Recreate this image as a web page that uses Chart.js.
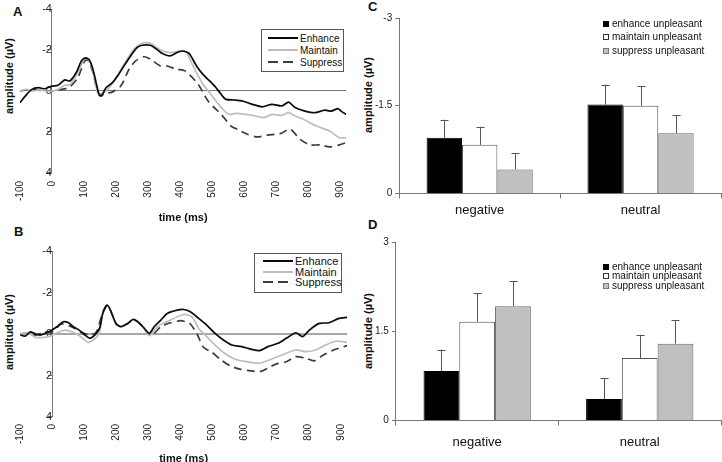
<!DOCTYPE html>
<html>
<head>
<meta charset="utf-8">
<script src="https://cdn.jsdelivr.net/npm/chart.js@4"></script>
<style>
  html, body { margin: 0; padding: 0; background: #fff; overflow: hidden; }
  body { width: 722px; height: 462px; position: relative; font-family: "Liberation Sans", Arial, sans-serif; color: #111; }
  .panel { position: absolute; }
  .letter { position: absolute; font-weight: bold; font-size: 13px; }
  .ytitle { position: absolute; font-weight: bold; font-size: 11px; white-space: nowrap;
            transform: translate(-50%, -50%) rotate(-90deg); }
  .lbox { position: absolute; border: 1px solid #555; background: #fff; }
  .lrow { position: absolute; left: 0; height: 12px; display: flex; align-items: center; white-space: nowrap; }
  .lrow svg { display: block; }
  .lrow span { margin-left: 2px; }
  .sq { position: absolute; display: flex; align-items: center; font-size: 10px; white-space: nowrap; }
  .sq i { display: inline-block; width: 6px; height: 6px; margin-right: 3px; box-sizing: border-box; }
</style>
</head>
<body>

<div class="letter" style="left:13px; top:4px;">A</div>
<div class="letter" style="left:14px; top:224px;">B</div>
<div class="letter" style="left:368px; top:-1px;">C</div>
<div class="letter" style="left:368px; top:217px;">D</div>

<div class="ytitle" style="left:9px; top:76px;">amplitude (µV)</div>
<div class="ytitle" style="left:9px; top:332px;">amplitude (µV)</div>
<div class="ytitle" style="left:368px; top:95px;">amplitude (µV)</div>
<div class="ytitle" style="left:368px; top:331px;">amplitude (µV)</div>

<div class="panel" style="left:0; top:0;"><canvas id="chartA" width="360" height="230"></canvas></div>
<div class="panel" style="left:0; top:230px;"><canvas id="chartB" width="360" height="234"></canvas></div>
<div class="panel" style="left:360px; top:0;"><canvas id="chartC" width="362" height="230"></canvas></div>
<div class="panel" style="left:360px; top:230px;"><canvas id="chartD" width="362" height="232"></canvas></div>

<!-- waveform legends -->
<div class="lbox" style="left:261px; top:29px; width:81px; height:41px; font-size:10px;">
  <div class="lrow" style="top:2px; left:6px;"><svg width="30" height="4"><line x1="0" y1="2" x2="30" y2="2" stroke="#0a0a0a" stroke-width="2"/></svg><span>Enhance</span></div>
  <div class="lrow" style="top:14px; left:6px;"><svg width="30" height="4"><line x1="0" y1="2" x2="30" y2="2" stroke="#bdbdbd" stroke-width="2"/></svg><span>Maintain</span></div>
  <div class="lrow" style="top:26px; left:6px;"><svg width="30" height="4"><line x1="0" y1="2" x2="30" y2="2" stroke="#3c3c3c" stroke-width="2" stroke-dasharray="10 5"/></svg><span>Suppress</span></div>
</div>
<div class="lbox" style="left:254px; top:253px; width:86px; height:38px; font-size:11px;">
  <div class="lrow" style="top:1px; left:8px;"><svg width="30" height="4"><line x1="0" y1="2" x2="30" y2="2" stroke="#0a0a0a" stroke-width="2"/></svg><span>Enhance</span></div>
  <div class="lrow" style="top:12px; left:8px;"><svg width="30" height="4"><line x1="0" y1="2" x2="30" y2="2" stroke="#bdbdbd" stroke-width="2"/></svg><span>Maintain</span></div>
  <div class="lrow" style="top:22px; left:8px;"><svg width="30" height="4"><line x1="0" y1="2" x2="30" y2="2" stroke="#3c3c3c" stroke-width="2" stroke-dasharray="10 5"/></svg><span>Suppress</span></div>
</div>

<!-- bar legends -->
<div class="sq" style="left:603px; top:18px;"><i style="background:#000;"></i>enhance unpleasant</div>
<div class="sq" style="left:603px; top:31px;"><i style="background:#fff; border:1px solid #333;"></i>maintain unpleasant</div>
<div class="sq" style="left:603px; top:45px;"><i style="background:#c0c0c0; border:1px solid #777;"></i>suppress unpleasant</div>
<div class="sq" style="left:603px; top:261px;"><i style="background:#000;"></i>enhance unpleasant</div>
<div class="sq" style="left:603px; top:270px;"><i style="background:#fff; border:1px solid #333;"></i>maintain unpleasant</div>
<div class="sq" style="left:603px; top:280px;"><i style="background:#c0c0c0; border:1px solid #777;"></i>suppress unpleasant</div>

<script>
// ---- data ----
// Panel A waveforms (time in ms, amplitude in µV)
const tEnhanceA = [-100,-83,-63,-42,-22,-1,19,40,56,76,92,105,117,128,138,148,155,169,189,205,225,246,266,282,308,328,344,369,390,405,421,431,452,472,493,513,529,544,570,596,627,657,688,719,740,760,791,822,853,873,894,904,920];
const vEnhanceA = [0.57,0.24,-0.08,-0.16,-0.11,-0.24,-0.28,-0.54,-0.49,-0.9,-1.46,-1.62,-1.51,-1.06,-0.41,0.21,0.24,-0.16,-0.41,-0.73,-1.22,-1.71,-2.11,-2.23,-2.23,-2.03,-1.84,-1.71,-1.87,-1.95,-1.9,-1.79,-1.22,-0.81,-0.49,-0.16,0.16,0.41,0.44,0.49,0.65,0.77,0.65,0.73,0.54,0.81,0.98,1.06,0.93,0.98,0.86,0.98,1.14];
const tMaintainA = [-100,-80,-60,-40,-20,0,19,40,56,81,102,113,128,143,155,174,194,225,256,282,308,339,369,400,421,431,452,472,493,513,534,554,575,606,637,663,688,719,740,760,786,827,868,899,920];
const vMaintainA = [0,-0.08,0,-0.05,0,0,-0.08,-0.28,-0.3,-0.9,-1.58,-1.55,-0.98,0.08,0.12,-0.08,-0.49,-1.3,-2.03,-2.33,-2.33,-2.0,-1.87,-1.95,-1.9,-1.55,-0.9,-0.33,0.08,0.49,0.89,1.14,1.09,1.14,1.22,1.3,1.14,1.19,1.06,1.22,1.38,1.71,1.95,2.28,2.28];
const tSuppressA = [-100,-80,-52,-20,0,20,40,56,81,102,113,128,143,155,169,184,215,241,261,287,308,339,359,390,416,457,488,529,560,580,611,642,673,714,745,776,807,838,868,899,920];
const vSuppressA = [0,-0.05,-0.05,0,0,-0.05,-0.1,-0.2,-0.65,-1.46,-1.5,-0.9,0.05,0.2,0.08,0.08,-0.24,-1.06,-1.46,-1.67,-1.55,-1.22,-1.22,-1.06,-0.98,-0.33,0.49,1.14,1.71,1.87,2.11,2.24,2.15,2.08,1.87,2.36,2.63,2.63,2.73,2.63,2.52];

// Panel B waveforms
const tEnhanceB = [-99,-83,-68,-52,-37,-22,-5,15,35,50,66,81,102,117,133,148,158,172,184,199,215,236,252,267,283,303,318,339,359,390,410,431,457,482,508,534,560,591,622,647,673,704,730,760,781,802,833,863,894,920];
const vEnhanceB = [0.05,0.1,-0.1,0,0.05,-0.03,-0.15,-0.35,-0.59,-0.55,-0.35,-0.22,0.05,0.2,0.05,-0.27,-0.99,-1.39,-1.07,-0.51,-0.35,-0.51,-0.7,-0.59,-0.35,-0.03,-0.35,-0.67,-0.99,-1.15,-1.18,-1.07,-0.75,-0.43,-0.03,0.29,0.53,0.61,0.74,0.8,0.61,0.45,0.21,-0.06,0.13,-0.19,-0.51,-0.54,-0.75,-0.8];
const tMaintainB = [-99,-75,-52,-22,-1,19,40,66,92,112,133,148,158,172,184,199,215,236,252,267,283,303,328,369,410,436,457,482,513,544,575,606,647,678,719,760,791,822,853,884,920];
const vMaintainB = [0,-0.05,0.16,0.16,0.08,-0.08,-0.19,-0.08,0.16,0.4,0.24,-0.1,-1.0,-1.4,-1.07,-0.51,-0.35,-0.51,-0.7,-0.59,-0.35,0.08,-0.35,-0.67,-0.94,-0.83,-0.27,0.13,0.61,1.0,1.24,1.33,1.41,1.24,1.0,0.77,0.85,0.77,0.53,0.35,0.4];
const tSuppressB = [-99,-75,-52,-22,0,30,60,92,117,138,158,172,184,199,215,236,252,267,283,308,339,369,400,416,431,452,472,498,523,554,585,616,652,673,698,730,760,791,817,843,873,920];
const vSuppressB = [0,-0.05,0.05,-0.1,-0.1,-0.48,-0.35,-0.08,0.05,-0.1,-1.05,-1.4,-1.07,-0.51,-0.35,-0.51,-0.7,-0.59,-0.35,0.08,-0.35,-0.54,-0.64,-0.59,-0.48,0,0.64,0.88,1.2,1.53,1.69,1.77,1.8,1.64,1.45,1.34,1.09,1.17,1.29,1.04,0.8,0.56];

// Panels C and D: mean amplitudes and error-bar lengths
const groups = ['negative', 'neutral'];
const cEnhance = [-0.95, -1.52];
const cMaintain = [-0.83, -1.50];
const cSuppress = [-0.41, -1.03];
const cEnhanceErr = [0.31, 0.34];
const cMaintainErr = [0.31, 0.33];
const cSuppressErr = [0.28, 0.31];

const dEnhance = [0.83, 0.36];
const dMaintain = [1.66, 1.05];
const dSuppress = [1.92, 1.29];
const dEnhanceErr = [0.36, 0.35];
const dMaintainErr = [0.48, 0.39];
const dSuppressErr = [0.42, 0.39];

// ---- shared setup ----
Chart.defaults.font.family = '"Liberation Sans", Arial, sans-serif';
Chart.defaults.color = '#111';

const pts = (t, v) => t.map((x, i) => ({ x: x, y: v[i] }));

function waveDataset(label, t, v, color, dash) {
    return {
        label: label,
        data: pts(t, v),
        borderColor: color,
        borderWidth: 1.7,
        borderDash: dash || [],
        pointRadius: 0,
        tension: 0.25,
        fill: false
    };
}

function waveChart(id, sets, opt) {
    return new Chart(document.getElementById(id), {
        type: 'line',
        data: { datasets: sets },
        options: {
            responsive: false,
            animation: false,
            layout: { padding: opt.padding },
            plugins: { legend: { display: false }, tooltip: { enabled: false } },
            scales: {
                x: {
                    type: 'linear',
                    min: -100,
                    max: 920,
                    border: { display: false },
                    grid: { display: false, drawTicks: false, tickLength: 0 },
                    ticks: {
                        stepSize: 100,
                        includeBounds: false,
                        minRotation: 90,
                        maxRotation: 90,
                        padding: opt.tickPad,
                        font: { size: 10 },
                        color: '#222'
                    },
                    title: {
                        display: true,
                        text: 'time (ms)',
                        font: { size: 11, weight: 'bold', lineHeight: 1 },
                        padding: { top: opt.titlePad, bottom: 0 },
                        color: '#111'
                    }
                },
                y: {
                    position: { x: 0 },
                    reverse: true,
                    min: -4,
                    max: 4,
                    border: { color: '#777' },
                    grid: {
                        color: (c) => c.tick && c.tick.value === 0 ? opt.zeroColor : 'rgba(0,0,0,0)',
                        lineWidth: (c) => c.tick && c.tick.value === 0 ? opt.zeroWidth : 1,
                        tickColor: '#777',
                        tickLength: 4
                    },
                    ticks: { stepSize: 2, font: { size: 11 }, color: '#222', padding: 2 }
                }
            }
        }
    });
}

waveChart('chartA', [
    waveDataset('Enhance', tEnhanceA, vEnhanceA, '#0a0a0a'),
    waveDataset('Maintain', tMaintainA, vMaintainA, '#bdbdbd'),
    waveDataset('Suppress', tSuppressA, vSuppressA, '#3c3c3c', [8, 5])
], { padding: { left: 20, right: 10, top: 9, bottom: 7 }, tickPad: 8, titlePad: 3, zeroColor: '#777', zeroWidth: 1 });

waveChart('chartB', [
    waveDataset('Enhance', tEnhanceB, vEnhanceB, '#0a0a0a'),
    waveDataset('Maintain', tMaintainB, vMaintainB, '#bdbdbd'),
    waveDataset('Suppress', tSuppressB, vSuppressB, '#3c3c3c', [8, 5])
], { padding: { left: 20, right: 10, top: 21, bottom: 0 }, tickPad: 7, titlePad: 2, zeroColor: '#a8a8a8', zeroWidth: 2 });

// error bars drawn with the chart's own value scale
const errorBars = {
    id: 'errorBars',
    afterDatasetsDraw(chart) {
        const ctx = chart.ctx;
        const yScale = chart.scales.y;
        chart.data.datasets.forEach((ds, i) => {
            const meta = chart.getDatasetMeta(i);
            meta.data.forEach((bar, j) => {
                const v = ds.data[j];
                const end = yScale.getPixelForValue(v + Math.sign(v) * ds.errors[j]);
                const x = Math.round(bar.x) + 0.5;
                ctx.save();
                ctx.strokeStyle = '#555';
                ctx.lineWidth = 1;
                ctx.beginPath();
                ctx.moveTo(x, bar.y);
                ctx.lineTo(x, end);
                ctx.moveTo(x - 4, Math.round(end) + 0.5);
                ctx.lineTo(x + 4, Math.round(end) + 0.5);
                ctx.stroke();
                ctx.restore();
            });
        });
    }
};

function barChart(id, sets, yOpt, opt) {
    return new Chart(document.getElementById(id), {
        type: 'bar',
        data: { labels: groups, datasets: sets },
        options: {
            responsive: false,
            animation: false,
            layout: { padding: opt.padding },
            datasets: { bar: { categoryPercentage: 0.66, barPercentage: 1, borderWidth: 1 } },
            plugins: { legend: { display: false }, tooltip: { enabled: false } },
            scales: {
                x: {
                    border: { color: '#777' },
                    grid: { offset: true, drawOnChartArea: false, tickColor: '#777', tickLength: 5 },
                    ticks: { font: { size: 13 }, color: '#111', padding: opt.tickPad }
                },
                y: Object.assign({
                    border: { color: '#777' },
                    grid: { drawOnChartArea: false, tickColor: '#777', tickLength: 4 },
                    ticks: { stepSize: 1.5, font: { size: 10 }, color: '#222', padding: 3 }
                }, yOpt)
            }
        },
        plugins: [errorBars]
    });
}

function barSets(e, m, s, ee, me, se) {
    return [
        { label: 'enhance unpleasant', data: e, errors: ee, backgroundColor: '#000', borderColor: '#000' },
        { label: 'maintain unpleasant', data: m, errors: me, backgroundColor: '#fff', borderColor: '#555' },
        { label: 'suppress unpleasant', data: s, errors: se, backgroundColor: '#c0c0c0', borderColor: '#666' }
    ];
}

barChart('chartC', barSets(cEnhance, cMaintain, cSuppress, cEnhanceErr, cMaintainErr, cSuppressErr),
    { min: -3, max: 0, reverse: true },
    { padding: { left: 12, right: 1, top: 18, bottom: 8 }, tickPad: 4 });

barChart('chartD', barSets(dEnhance, dMaintain, dSuppress, dEnhanceErr, dMaintainErr, dSuppressErr),
    { min: 0, max: 3 },
    { padding: { left: 12, right: 1, top: 12, bottom: 3 }, tickPad: 9 });
</script>
</body>
</html>
